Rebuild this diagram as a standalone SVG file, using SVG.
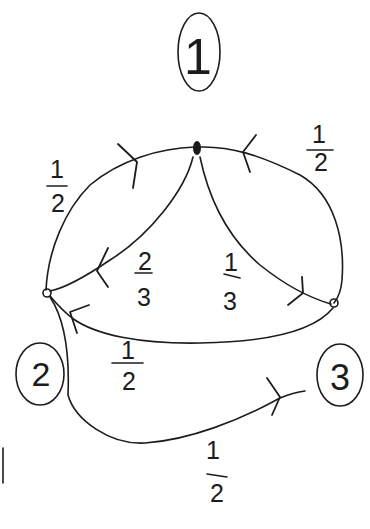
<svg xmlns="http://www.w3.org/2000/svg" width="370" height="529" viewBox="0 0 370 529">
<style>
.e{fill:none;stroke:#1c1c1c;stroke-width:1.6;stroke-linecap:round;stroke-linejoin:round}
.a{fill:none;stroke:#1c1c1c;stroke-width:1.8;stroke-linecap:round;stroke-linejoin:round}
.c{fill:none;stroke:#1c1c1c;stroke-width:1.6}
.t{font-family:"Liberation Sans","DejaVu Sans",sans-serif;fill:#1c1c1c;text-anchor:middle}
.f{font-size:25px}
.b{stroke:#1c1c1c;stroke-width:1.6;stroke-linecap:round}
</style>
<rect width="370" height="529" fill="#fff"/>
<g id="connectors">
  <path class="e" d="M195,147 C160,148 120,160 90,185 C65,210 48,250 46,290"/>
  <path class="a" d="M118,144 L137,162 L133,188"/>
  <path class="e" d="M199,147 C230,146 260,155 300,175 C335,195 345,240 342,280 C341,292 338,298 334,303"/>
  <path class="a" d="M256,135 L243,152 L250,172"/>
  <path class="e" d="M193,157 C185,190 150,235 110,260 C85,277 65,288 50,291"/>
  <path class="a" d="M108,248 L97,271 L108,287"/>
  <path class="e" d="M200,157 C208,195 225,235 260,265 C285,285 310,298 331,304"/>
  <path class="a" d="M302,277 L303,293 L288,305"/>
  <path class="e" d="M333,308 C315,330 270,342 200,343 C140,344 95,335 72,318 C62,310 55,302 50,296"/>
  <path class="a" d="M89,305 L70,312 L77,333"/>
  <path class="e" d="M50,297 C62,315 70,345 68,395 C75,420 110,445 145,443 C190,440 240,420 280,398 C290,394 298,392 305,391"/>
  <path class="a" d="M267,378 L280,397 L272,415"/>
</g>
<g id="node-1">
  <ellipse cx="197" cy="148" rx="4" ry="7" fill="#1c1c1c"/>
  <ellipse class="c" cx="199" cy="52" rx="21" ry="39"/>
  <text class="t" x="198" y="74" font-size="50">1</text>
</g>
<g id="node-2">
  <circle class="c" cx="47" cy="293" r="4"/>
  <ellipse class="c" cx="40" cy="374" rx="24" ry="31"/>
  <text class="t" x="41" y="386" font-size="34">2</text>
</g>
<g id="node-3">
  <circle class="c" cx="334" cy="303" r="4"/>
  <ellipse class="c" cx="340" cy="375" rx="23" ry="31"/>
  <text class="t" x="340" y="390" font-size="36">3</text>
</g>
<g id="labels">
  <text class="t f" x="57" y="178">1</text>
  <line class="b" x1="47" y1="186" x2="67" y2="186"/>
  <text class="t f" x="58" y="212">2</text>

  <text class="t f" x="319" y="143">1</text>
  <line class="b" x1="307" y1="150" x2="333" y2="150"/>
  <text class="t f" x="321" y="171">2</text>

  <text class="t f" x="145" y="270">2</text>
  <line class="b" x1="135" y1="273" x2="152" y2="273"/>
  <text class="t f" x="144" y="306">3</text>

  <text class="t f" x="231" y="271">1</text>
  <line class="b" x1="224" y1="274" x2="240" y2="278"/>
  <text class="t f" x="230" y="310">3</text>

  <text class="t f" x="128" y="359">1</text>
  <line class="b" x1="112" y1="363" x2="143" y2="363"/>
  <text class="t f" x="129" y="390">2</text>

  <text class="t f" x="213" y="459">1</text>
  <line class="b" x1="207" y1="474" x2="227" y2="477"/>
  <text class="t f" x="217" y="502">2</text>

  <line class="b" x1="3" y1="448" x2="3" y2="483"/>
</g>
</svg>
